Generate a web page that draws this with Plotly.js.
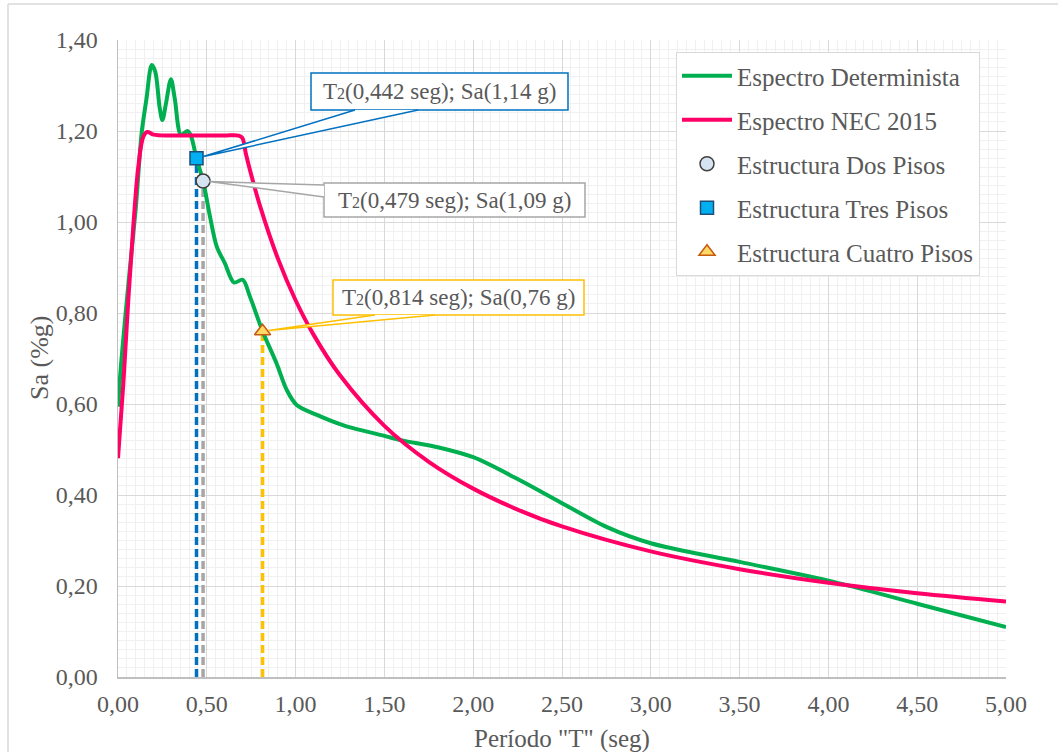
<!DOCTYPE html>
<html><head><meta charset="utf-8">
<script src="https://cdn.plot.ly/plotly-3.0.1.min.js"></script>
<style>html,body{margin:0;padding:0;background:#fff}#chart{width:1058px;height:752px}</style>
</head><body><div id="chart"></div>
<script>
// ---- data ----
const detT  = [0, 0.02, 0.06, 0.10, 0.133, 0.16, 0.19, 0.21, 0.235, 0.25, 0.27, 0.298, 0.32, 0.355, 0.39, 0.41, 0.442, 0.479, 0.518, 0.556, 0.602, 0.653, 0.702, 0.743, 0.814, 0.893, 0.95, 1.006, 1.12, 1.27, 1.5, 1.6, 1.8, 2.0, 2.25, 2.5, 2.75, 3.0, 3.5, 4.03, 4.5, 5.0];
const detSa = [0.594, 0.70, 0.87, 1.03, 1.195, 1.27, 1.345, 1.33, 1.25, 1.224, 1.26, 1.314, 1.27, 1.191, 1.20, 1.19, 1.14, 1.09, 1.012, 0.946, 0.909, 0.867, 0.873, 0.836, 0.76, 0.689, 0.631, 0.598, 0.576, 0.553, 0.53, 0.52, 0.505, 0.483, 0.435, 0.382, 0.33, 0.294, 0.253, 0.209, 0.161, 0.11];

const necT  = [0, 0.03, 0.058, 0.086, 0.114, 0.143, 0.165, 0.2, 0.3, 0.4, 0.5, 0.6, 0.68, 0.70, 0.72, 0.75, 0.8, 0.9, 1.0, 1.1, 1.25, 1.5, 1.75, 2.0, 2.25, 2.5, 3.0, 3.5, 4.0, 4.5, 5.0];
const necSa = [0.481, 0.645, 0.829, 0.99, 1.12, 1.188, 1.198, 1.192, 1.19, 1.19, 1.19, 1.19, 1.19, 1.185, 1.15, 1.104, 1.035, 0.92, 0.828, 0.753, 0.663, 0.552, 0.473, 0.414, 0.368, 0.331, 0.276, 0.237, 0.207, 0.184, 0.166];

const structNames = ["Estructura Dos Pisos", "Estructura Tres Pisos", "Estructura Cuatro Pisos"];
const structT  = [0.479, 0.442, 0.814];
const structSa = [1.09, 1.14, 0.76];

const xTickVals = [0, 0.5, 1, 1.5, 2, 2.5, 3, 3.5, 4, 4.5, 5];
const yTickVals = [0, 0.2, 0.4, 0.6, 0.8, 1.0, 1.2, 1.4];

// ---- geometry ----
const W = 1058, H = 752, ML = 118, MR = 52, MT = 40, MB = 75;
const PW = W - ML - MR, PH = H - MT - MB;
const XMAX = 5, YMAX = 1.4;
const px2p = px => (px - ML) / PW;
const py2p = py => (H - MB - py) / PH;
const dx2px = x => ML + x / XMAX * PW;
const dy2py = y => H - MB - y / YMAX * PH;

const FONT = "Liberation Serif, Times New Roman, serif";
const TXT = "#595959";
const fmt = (v, d) => v.toFixed(d).replace(".", ",");

const markerStyles = [
  {symbol: "circle", size: 14, color: "#D6E4F2", line: {color: "#404040", width: 1.5}},
  {symbol: "square", size: 13, color: "#00B0F0", line: {color: "#1F4E79", width: 1.5}},
  {symbol: "triangle-up", size: 14, color: "#FFD966", line: {color: "#C55A11", width: 1.5}}
];
const dashColors = ["#A6A6A6", "#0070C0", "#FFC000"];
const boxColors  = ["#A6A6A6", "#0070C0", "#FFC000"];

const traces = [];
for (let i = 0; i < structT.length; i++) {
  traces.push({x: [structT[i], structT[i]], y: [0, structSa[i]], mode: "lines", showlegend: false, hoverinfo: "skip",
    legendgroup: "d" + i, line: {color: dashColors[i], width: 3.5, dash: "8px,4px"}});
}
traces.push({x: detT, y: detSa, name: "Espectro Determinista", mode: "lines", legendgroup: "a",
  line: {color: "#00B050", width: 4, shape: "spline", smoothing: 0.9}});
traces.push({x: necT, y: necSa, name: "Espectro NEC 2015", mode: "lines", legendgroup: "b",
  line: {color: "#FF0066", width: 4, shape: "spline", smoothing: 1.0}});
for (let i = 0; i < structT.length; i++) {
  traces.push({x: [structT[i]], y: [structSa[i]], name: structNames[i], mode: "markers", legendgroup: "s" + i,
    marker: markerStyles[i]});
}

const boxes = [
  {x0: 324, x1: 585, y0: 183, y1: 217, base: [[324, 185], [324, 197]]},
  {x0: 311, x1: 568, y0: 73, y1: 110, base: [[355, 110], [418, 110]]},
  {x0: 333, x1: 584, y0: 280, y1: 315, base: [[375, 315], [435, 315]]}
];
const shapes = [];
const annotations = [];
for (let i = 0; i < boxes.length; i++) {
  const b = boxes[i];
  let tx = dx2px(structT[i]), ty = dy2py(structSa[i]);
  const mx = (b.base[0][0] + b.base[1][0]) / 2, my = (b.base[0][1] + b.base[1][1]) / 2;
  const d = Math.hypot(mx - tx, my - ty);
  tx += (mx - tx) / d * 6; ty += (my - ty) / d * 6;
  const p = `M ${px2p(b.base[0][0])} ${py2p(b.base[0][1])} L ${px2p(tx)} ${py2p(ty)} L ${px2p(b.base[1][0])} ${py2p(b.base[1][1])}`;
  shapes.push({type: "rect", xref: "paper", yref: "paper", layer: "above",
    x0: px2p(b.x0), x1: px2p(b.x1), y0: py2p(b.y1), y1: py2p(b.y0),
    line: {color: boxColors[i], width: 1.5}, fillcolor: "#FFFFFF"});
  shapes.push({type: "path", xref: "paper", yref: "paper", layer: "above", path: p,
    line: {color: boxColors[i], width: 1.5}, fillcolor: "#FFFFFF"});
  annotations.push({xref: "paper", yref: "paper", x: px2p((b.x0 + b.x1) / 2), y: py2p((b.y0 + b.y1) / 2),
    xanchor: "center", yanchor: "middle", showarrow: false,
    text: `T<span style="font-size:16px">2</span>(${fmt(structT[i], 3)} seg); Sa(${fmt(structSa[i], 2)} g)`,
    font: {family: FONT, size: 23, color: TXT}});
}
// axis titles
annotations.push({xref: "paper", yref: "paper", x: 0.5, y: py2p(739), xanchor: "center", yanchor: "middle", showarrow: false,
  text: 'Período "T" (seg)', font: {family: FONT, size: 25, color: TXT}});
annotations.push({xref: "paper", yref: "paper", x: px2p(39), y: py2p(358), xanchor: "center", yanchor: "middle", showarrow: false,
  textangle: -90, text: "Sa (%g)", font: {family: FONT, size: 26, color: TXT}});
// outer chart border (left and top visible)
shapes.push({type: "line", xref: "paper", yref: "paper", x0: px2p(8), x1: px2p(8), y0: py2p(4), y1: py2p(H + 5), line: {color: "#D9D9D9", width: 1.5}});
shapes.push({type: "line", xref: "paper", yref: "paper", x0: px2p(8), x1: px2p(W + 5), y0: py2p(4), y1: py2p(4), line: {color: "#D9D9D9", width: 1.5}});

const layout = {
  width: W, height: H,
  margin: {l: ML, r: MR, t: MT, b: MB, pad: 0},
  paper_bgcolor: "#FFFFFF", plot_bgcolor: "#FFFFFF",
  separators: ",.",
  font: {family: FONT, color: TXT, size: 24},
  xaxis: {range: [0, XMAX], tickvals: xTickVals, tickformat: ".2f", showgrid: true, gridcolor: "#D9D9D9", gridwidth: 1,
    minor: {dtick: 0.05, showgrid: true, gridcolor: "#F0F0F0", gridwidth: 1},
    zeroline: false, showline: true, linecolor: "#BFBFBF", linewidth: 1.5, ticks: "", ticklabelstandoff: 5,
    tickfont: {family: FONT, size: 24, color: TXT}, fixedrange: true},
  yaxis: {range: [0, YMAX], tickvals: yTickVals, tickformat: ".2f", showgrid: true, gridcolor: "#D9D9D9", gridwidth: 1,
    minor: {dtick: 0.02, showgrid: true, gridcolor: "#F0F0F0", gridwidth: 1},
    zeroline: false, showline: true, linecolor: "#BFBFBF", linewidth: 1.5, ticks: "", ticklabelstandoff: 14,
    tickfont: {family: FONT, size: 24, color: TXT}, fixedrange: true},
  legend: {x: px2p(676), y: py2p(52), xanchor: "left", yanchor: "top", bgcolor: "#FFFFFF", bordercolor: "#D9D9D9", borderwidth: 1,
    font: {family: FONT, size: 25, color: TXT}, tracegroupgap: 8.5, itemwidth: 50, traceorder: "grouped"},
  shapes: shapes, annotations: annotations,
  showlegend: true
};
Plotly.newPlot("chart", traces, layout, {displayModeBar: false, staticPlot: true});
</script></body></html>
